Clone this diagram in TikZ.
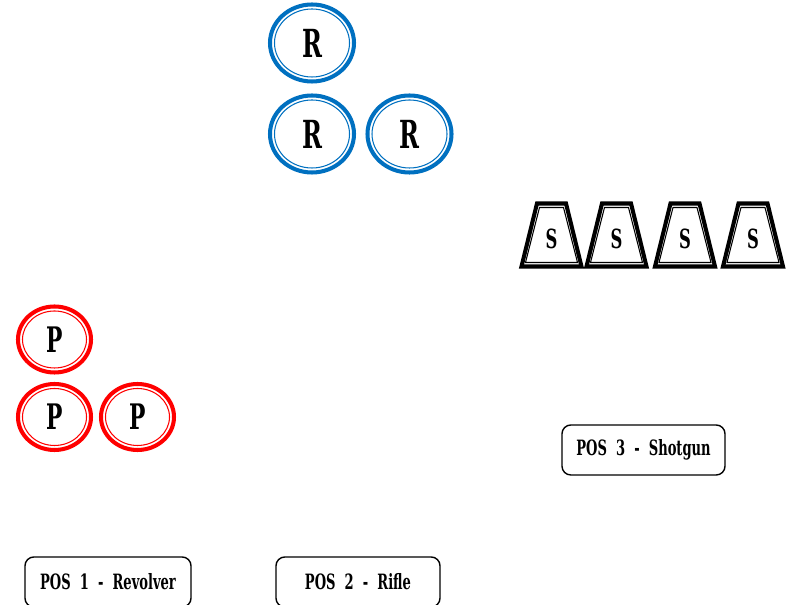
\documentclass[tikz,border=0pt]{standalone}
\usepackage{fontspec}
\usepackage{tikz}
\usetikzlibrary{
  calc,
  positioning,
  shapes.geometric
}
\newfontfamily\westfont{DejaVu Serif}[FakeStretch=0.62]
\definecolor{rifleblue}{RGB}{0,112,192}
\definecolor{pistolred}{RGB}{255,0,0}

\begin{document}
\begin{tikzpicture}[
  target/.style={ellipse, draw, line width=2.3pt, inner sep=0pt},
  rtarget/.style={target, draw=rifleblue, minimum width=1.68cm,
                  minimum height=1.54cm, font=\westfont\bfseries\fontsize{22}{22}\selectfont,
                  path picture={\draw[rifleblue, line width=0.6pt]
                    (path picture bounding box.center) ellipse (0.75cm and 0.68cm);}},
  ptarget/.style={target, draw=pistolred, minimum width=1.46cm,
                  minimum height=1.32cm, font=\westfont\bfseries\fontsize{20}{20}\selectfont,
                  path picture={\draw[pistolred, line width=0.6pt]
                    (path picture bounding box.center) ellipse (0.64cm and 0.57cm);}},
  starget/.style={inner sep=0pt, font=\westfont\bfseries\fontsize{15}{15}\selectfont},
  souter/.style={line width=2.3pt, line join=miter},
  sinner/.style={line width=0.6pt},
  posbox/.style={draw, rounded corners=5pt, line width=0.8pt, minimum height=1cm,
                 minimum width=3.28cm, font=\westfont\bfseries\fontsize{12}{14}\selectfont}
]
\useasboundingbox (0,0) rectangle (15.9,12.1);

% Rifle
\node[rtarget] (r1) at (6.24, 11.24) {R};
\node[rtarget] (r2) at (6.24, 9.42) {R};
\node[rtarget] (r3) at (8.19, 9.42) {R};

% Shotgun
\foreach \x [count=\i] in {11.03, 12.33, 13.70, 15.06} {
  \node[starget] (s\i) at (\x, 7.33) {S};
  \draw[souter, shift={(\x, 7.40)}]
    (-0.29,0.63) -- (0.29,0.63) -- (0.60,-0.63) -- (-0.60,-0.63) -- cycle;
  \draw[sinner, shift={(\x, 7.40)}]
    (-0.24,0.55) -- (0.24,0.55) -- (0.52,-0.55) -- (-0.52,-0.55) -- cycle;
}

% Pistol
\node[ptarget] (p1) at (1.09, 5.31) {P};
\node[ptarget] (p2) at (1.09, 3.76) {P};
\node[ptarget] (p3) at (2.75, 3.76) {P};

% Positions
\node[posbox, minimum width=3.32cm] (pos1) at (2.16, 0.46) {POS\ \ 1\ \ -\ \ Revolver};
\node[posbox] (pos2) at (7.16, 0.46) {POS\ \ 2\ \ -\ \ Rifle};
\node[posbox, minimum width=3.26cm] (pos3) at (12.87, 3.10) {POS\ \ 3\ \ -\ \ Shotgun};

\end{tikzpicture}
\end{document}
